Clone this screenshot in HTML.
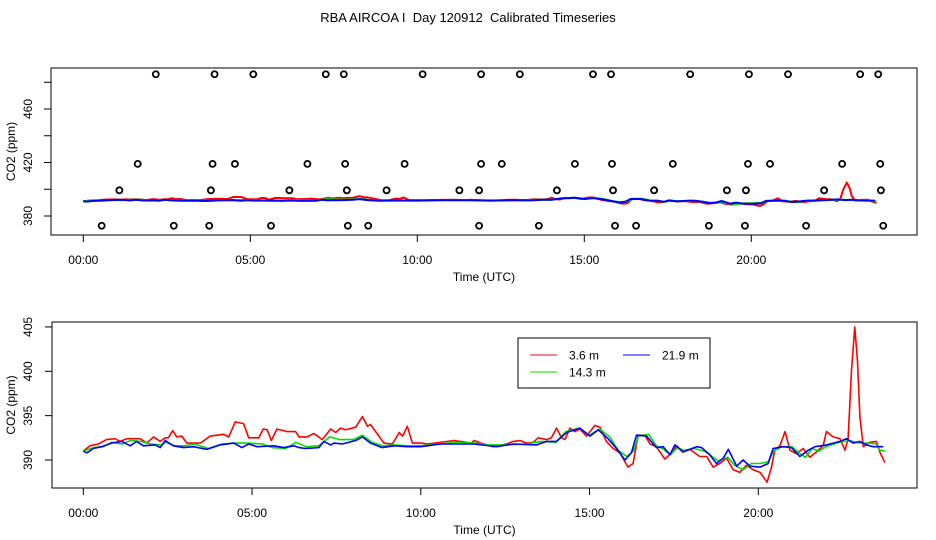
<!DOCTYPE html>
<html><head><meta charset="utf-8"><style>
html,body{margin:0;padding:0;background:#fff;}
svg{display:block;font-family:"Liberation Sans",sans-serif;}
text{white-space:pre;}
</style></head><body>
<svg id="c" width="936" height="540" viewBox="0 0 936 540">
<text x="468" y="22" text-anchor="middle" font-size="13" xml:space="preserve">RBA AIRCOA I  Day 120912  Calibrated Timeseries</text>
<g id="topPanel"></g>
<g id="botPanel"></g>
</svg>
<script>
const redT=[0,0.2,0.45,0.69,0.94,1.09,1.29,1.68,1.88,2.08,2.28,2.43,2.52,2.65,2.77,2.92,3.07,3.47,3.76,4.16,4.31,4.5,4.75,4.9,5.2,5.33,5.45,5.57,5.74,6.04,6.29,6.39,6.63,6.83,7.08,7.33,7.48,7.62,7.77,8.07,8.27,8.42,8.51,8.91,9.16,9.36,9.46,9.6,9.75,10.0,10.2,10.99,11.49,11.58,11.78,12.15,12.54,12.74,12.94,13.13,13.33,13.48,13.73,13.87,14.02,14.17,14.27,14.42,14.56,14.71,14.91,15.16,15.31,15.5,15.7,15.9,16.14,16.29,16.44,16.64,16.79,16.98,17.23,17.43,17.58,17.77,17.97,18.27,18.47,18.66,18.86,19.06,19.26,19.45,19.65,19.85,20.05,20.26,20.39,20.49,20.64,20.79,20.94,21.13,21.33,21.53,21.72,21.92,22.02,22.22,22.42,22.57,22.66,22.76,22.86,22.94,23.01,23.11,23.3,23.5,23.6,23.75];
const redV=[391.0,391.6,391.8,392.3,392.4,392.1,392.4,392.4,391.9,392.6,392.1,392.5,392.5,393.3,392.6,392.7,391.9,391.9,392.7,392.9,392.6,394.3,394.1,392.5,392.5,393.5,393.4,392.2,393.5,393.2,393.2,392.6,392.6,393.0,392.3,393.5,393.1,393.6,393.4,393.7,394.9,393.8,394.0,391.9,391.8,393.1,392.7,393.8,391.9,391.9,391.8,392.2,391.9,392.2,391.9,391.5,391.8,392.1,392.2,391.9,392.0,392.5,392.3,392.5,393.6,392.5,392.3,393.6,393.2,393.5,392.7,393.9,393.7,392.1,391.3,390.8,389.2,389.6,392.8,392.8,391.8,391.5,390.1,390.8,391.6,390.9,391.2,390.4,390.4,389.2,389.6,390.2,388.9,388.6,389.4,388.9,388.6,387.5,389.2,391.1,391.6,393.2,391.1,390.7,391.3,390.3,390.9,391.6,393.2,392.6,392.4,391.1,392.4,400.1,405.0,401.1,394.9,391.5,392.0,392.1,390.9,389.7];
const greenT=[0,0.3,0.6,0.84,1.14,1.4,1.7,2.0,2.3,2.45,2.7,3.0,3.3,3.7,4.1,4.5,4.9,5.3,5.6,6.0,6.3,6.6,6.98,7.3,7.6,8.0,8.27,8.55,8.86,9.2,9.6,10.0,10.6,11.0,11.6,12.0,12.5,13.1,13.6,14.0,14.3,14.7,15.0,15.3,15.6,15.85,16.1,16.3,16.45,16.75,16.98,17.2,17.4,17.6,17.8,18.1,18.4,18.6,18.8,19.1,19.3,19.55,19.8,20.05,20.3,20.45,20.7,21.0,21.2,21.4,21.6,21.8,22.0,22.4,22.7,23.0,23.3,23.5,23.6,23.75];
const greenV=[391.0,391.4,391.5,392.0,391.8,392.2,392.1,391.8,391.7,392.0,391.6,391.6,391.8,391.3,391.8,391.9,391.9,391.8,391.4,391.3,392.0,391.5,391.6,392.6,392.3,392.3,392.8,392.0,391.6,391.7,391.6,391.6,391.8,392.0,391.9,391.7,391.7,391.8,392.1,392.0,393.2,393.6,392.8,393.5,392.6,391.1,390.4,391.0,392.7,392.9,391.6,391.2,390.6,391.4,391.1,391.3,391.0,390.5,389.9,390.3,389.4,388.9,389.6,389.6,389.8,391.0,391.5,391.5,390.8,390.3,391.3,391.0,391.5,392.0,392.2,391.9,391.9,391.8,391.1,391.0];
const blueT=[0,0.1,0.3,0.54,0.84,1.14,1.39,1.58,1.78,2.13,2.28,2.43,2.67,2.97,3.27,3.66,4.06,4.46,4.7,4.9,5.15,5.64,5.94,6.24,6.39,6.58,6.98,7.13,7.33,7.43,7.67,8.07,8.27,8.51,8.86,9.21,9.6,10.0,10.59,11.58,12.24,12.74,13.43,13.73,14.02,14.32,14.71,15.01,15.26,15.55,15.8,16.05,16.24,16.39,16.69,16.98,17.18,17.38,17.53,17.77,18.17,18.32,18.56,18.76,18.96,19.11,19.36,19.55,19.75,20.05,20.29,20.44,20.74,20.98,21.23,21.48,21.68,22.02,22.42,22.61,22.81,23.01,23.21,23.4,23.7];
const blueV=[391.0,390.8,391.3,391.5,391.9,392.1,391.6,392.1,391.6,391.7,391.4,392.2,391.6,391.4,391.5,391.2,391.7,391.9,391.4,391.8,391.5,391.6,391.4,391.6,391.4,391.3,391.4,392.1,391.7,391.9,391.8,392.2,392.6,391.9,391.4,391.6,391.5,391.5,391.8,391.8,391.5,391.8,391.7,392.1,392.1,393.1,393.6,392.7,393.4,392.4,391.3,390.0,390.8,392.8,392.7,391.4,391.5,390.6,391.7,390.9,391.5,391.4,390.6,389.6,390.2,391.2,389.3,390.0,389.3,389.2,389.6,391.3,391.5,391.4,390.4,391.1,391.5,391.7,392.1,392.4,391.9,392.1,391.7,391.5,391.5];
const flagT486=[2.17,3.93,5.09,7.26,7.80,10.16,11.91,13.07,15.26,15.80,18.17,19.93,21.10,23.26,23.80];
const flagT419=[1.63,3.87,4.54,6.71,7.84,9.62,11.91,12.53,14.72,15.83,17.65,19.90,20.56,22.72,23.86];
const flagT399=[1.08,3.82,6.17,7.89,9.08,11.26,11.85,14.18,15.86,17.09,19.27,19.84,22.18,23.88];
const flagT373=[0.55,2.71,3.77,5.62,7.92,8.53,11.85,13.64,15.92,16.55,18.73,19.81,21.64,23.95];
const flagLevels=[486,419,399.2,372.7];
const xTicks=[0,5,10,15,20];
const xTickLabels=["00:00","05:00","10:00","15:00","20:00"];
const topYTicks=[380,400,420,440,460,480];
const topYLabels=[380,420,460];
const botYTicks=[390,395,400,405];

const NS="http://www.w3.org/2000/svg";
function mk(tag,attrs,parent){const e=document.createElementNS(NS,tag);for(const k in attrs)e.setAttribute(k,attrs[k]);parent.appendChild(e);return e;}

function panel(g,cfg){
  const xs=t=>cfg.x0+cfg.xh*t;
  const ys=v=>cfg.yRef-(v-cfg.vRef)*cfg.yk;
  const box=mk('rect',{x:cfg.L,y:cfg.T,width:cfg.R-cfg.L,height:cfg.B-cfg.T,fill:'none',stroke:'#000','stroke-width':1},g);
  
  
  xTicks.forEach((t,i)=>{
    const tk=mk('line',{x1:xs(t),x2:xs(t),y1:cfg.B,y2:cfg.B+7,stroke:'#000'},g);
    
    
    const tx=mk('text',{x:xs(t),y:cfg.B+29,'text-anchor':'middle','font-size':12},g);
    tx.textContent=xTickLabels[i];
    
    
  });
  const xt=mk('text',{x:(cfg.L+cfg.R)/2,y:cfg.B+46,'text-anchor':'middle','font-size':12},g);
  xt.textContent='Time (UTC)';
  
  
  cfg.yTicks.forEach(v=>{
    const tk=mk('line',{x1:cfg.L-7,x2:cfg.L,y1:ys(v),y2:ys(v),stroke:'#000'},g);
    
    
  });
  cfg.yLabels.forEach(v=>{
    const tx=mk('text',{x:0,y:0,'text-anchor':'middle','font-size':12,transform:`translate(32,${ys(v)}) rotate(-90)`},g);
    tx.textContent=String(v);
    
    
  });
  const yt=mk('text',{x:0,y:0,'text-anchor':'middle','font-size':12,transform:`translate(15,${(cfg.T+cfg.B)/2}) rotate(-90)`},g);
  yt.textContent='CO2 (ppm)';
  
  
  const series=[[redT,redV,'#ff0000','series-3-6m'],[greenT,greenV,'#00dd00','series-14-3m'],[blueT,blueV,'#0000ff','series-21-9m']];
  series.forEach(s=>{
    const d=s[0].map((t,i)=>(i?'L':'M')+xs(t).toFixed(1)+','+ys(s[1][i]).toFixed(1)).join('');
    const p=mk('path',{d:d,fill:'none',stroke:s[2],'stroke-width':cfg.lw,'stroke-linejoin':'round'},g);
    
    
  });
  return {xs,ys};
}

const topG=document.getElementById('topPanel');
const tp=panel(topG,{L:51,R:917,T:68,B:235,x0:83.3,xh:33.4,yRef:216,vRef:380,yk:1.3375,yTicks:topYTicks,yLabels:topYLabels,lw:2});
[flagT486,flagT419,flagT399,flagT373].forEach((arr,k)=>{
  arr.forEach(t=>{
    const c=mk('circle',{cx:tp.xs(t),cy:tp.ys(flagLevels[k]),r:3,fill:'none',stroke:'#000','stroke-width':1.8},topG);
    
    
  });
});

const botG=document.getElementById('botPanel');
panel(botG,{L:52,R:917,T:322,B:488,x0:83.3,xh:33.75,yRef:460,vRef:390,yk:8.87,yTicks:botYTicks,yLabels:botYTicks,lw:1.6});

const lg=mk('g',{},botG);


mk('rect',{x:518,y:338,width:192,height:50,fill:'#fff',stroke:'#000'},lg);
const ents=[[530,355,'#ff0000','3.6 m','legend-entry-3-6m'],[623,355,'#0000ff','21.9 m','legend-entry-21-9m'],[530,372,'#00dd00','14.3 m','legend-entry-14-3m']];
ents.forEach(e=>{
  const eg=mk('g',{},lg);
  
  
  mk('line',{x1:e[0],x2:e[0]+27,y1:e[1],y2:e[1],stroke:e[2],'stroke-width':1},eg);
  const tx=mk('text',{x:e[0]+39,y:e[1]+4.5,'font-size':12},eg);
  tx.textContent=e[3];
});
</script>
</body></html>
